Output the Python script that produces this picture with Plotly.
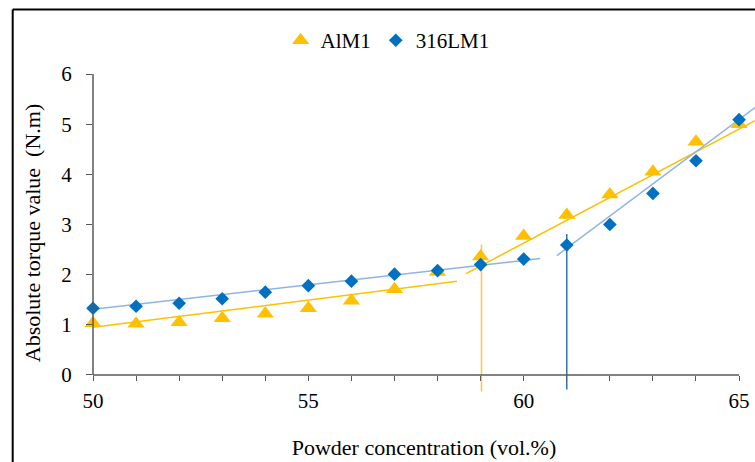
import plotly.graph_objects as go

conc = [50, 51, 52, 53, 54, 55, 56, 57, 58, 59, 60, 61, 62, 63, 64, 65]
alm1 = [1.03, 1.02, 1.05, 1.13, 1.22, 1.33, 1.48, 1.71, 2.05, 2.36, 2.77, 3.19, 3.60, 4.05, 4.65, 5.00]
lm316 = [1.33, 1.37, 1.43, 1.52, 1.65, 1.78, 1.87, 2.01, 2.08, 2.20, 2.31, 2.59, 3.00, 3.62, 4.27, 5.09]

# trend segments
al_low_x, al_low_y = [50, 58.45], [0.95, 1.87]
al_high_x, al_high_y = [58.66, 65.37], [2.02, 5.07]
ss_low_x, ss_low_y = [50, 60.38], [1.31, 2.32]
ss_high_x, ss_high_y = [60.77, 65.37], [2.38, 5.33]
# critical concentration markers
al_crit_x, al_crit_y = [59.02, 59.02], [2.6, -0.33]
ss_crit_x, ss_crit_y = [61.0, 61.0], [2.81, -0.29]

YEL = "#FFC000"
BLU = "#0070C0"
FONT = "'Liberation Serif', 'Times New Roman', 'DejaVu Serif', serif"
AXC = "#595959"

fig = go.Figure()
fig.add_trace(go.Scatter(x=al_low_x, y=al_low_y, mode="lines", line=dict(color=YEL, width=1.5),
                         showlegend=False, hoverinfo="skip"))
fig.add_trace(go.Scatter(x=al_high_x, y=al_high_y, mode="lines", line=dict(color=YEL, width=1.5),
                         showlegend=False, hoverinfo="skip"))
fig.add_trace(go.Scatter(x=ss_low_x, y=ss_low_y, mode="lines", line=dict(color="#8DB4E2", width=1.5),
                         showlegend=False, hoverinfo="skip"))
fig.add_trace(go.Scatter(x=ss_high_x, y=ss_high_y, mode="lines", line=dict(color="#8DB4E2", width=1.5),
                         showlegend=False, hoverinfo="skip"))
fig.add_trace(go.Scatter(x=al_crit_x, y=al_crit_y, mode="lines", line=dict(color="#FFC735", width=1.5),
                         showlegend=False, hoverinfo="skip"))
fig.add_trace(go.Scatter(x=ss_crit_x, y=ss_crit_y, mode="lines", line=dict(color="#2E75B6", width=1.5),
                         showlegend=False, hoverinfo="skip"))
fig.add_trace(go.Scatter(x=conc, y=alm1, mode="markers", name="AlM1", cliponaxis=False,
                         marker=dict(symbol="triangle-up", size=15, color=YEL)))
fig.add_trace(go.Scatter(x=conc, y=lm316, mode="markers", name="316LM1", cliponaxis=False,
                         marker=dict(symbol="diamond", size=10.5, color=BLU)))

ypos = 0.34 / 6.34
fig.update_layout(
    width=755, height=462,
    margin=dict(l=93, r=0, t=74, b=70),
    paper_bgcolor="white", plot_bgcolor="white",
    font=dict(family=FONT, size=21, color="black"),
    legend=dict(orientation="h", x=0.445, y=1.105, xanchor="center", yanchor="middle",
                font=dict(family=FONT, size=21, color="black"), itemwidth=30,
                bgcolor="rgba(0,0,0,0)"),
    xaxis=dict(range=[50, 65.37], anchor="free", position=ypos, showgrid=False, zeroline=False,
               showline=False, tickvals=[50, 55, 60, 65], ticks="outside", ticklen=5,
               tickcolor=AXC, tickwidth=1.2,
               minor=dict(dtick=1, tick0=50, ticks="outside", ticklen=5, tickcolor=AXC, tickwidth=1.2),
               tickfont=dict(family=FONT, size=21, color="black"), ticklabelstandoff=2,
               title=dict(text="Powder concentration (vol.%)", font=dict(family=FONT, size=22, color="black"),
                          standoff=27)),
    yaxis=dict(range=[-0.34, 6], showgrid=False, zeroline=False, showline=False,
               tickvals=[0, 1, 2, 3, 4, 5, 6], ticks="outside", ticklen=6, tickcolor=AXC, tickwidth=1.2,
               tickfont=dict(family=FONT, size=21, color="black"), ticklabelstandoff=10,
               title=dict(text="Absolute torque value  (N.m)", font=dict(family=FONT, size=22, color="black"),
                          standoff=14)),
    shapes=[
        dict(type="line", xref="paper", yref="y", x0=0, x1=0, y0=0, y1=6, line=dict(color=AXC, width=1.5)),
        dict(type="line", xref="x", yref="paper", x0=50, x1=65, y0=ypos, y1=ypos, line=dict(color=AXC, width=1.5)),
        dict(type="line", xref="paper", yref="paper", x0=-0.1213, x1=-0.1213, y0=-0.3, y1=1.2028,
             line=dict(color="black", width=2)),
        dict(type="line", xref="paper", yref="paper", x0=-0.1213, x1=1.05, y0=1.2028, y1=1.2028,
             line=dict(color="black", width=2)),
    ],
)

fig.write_html("out.html")
